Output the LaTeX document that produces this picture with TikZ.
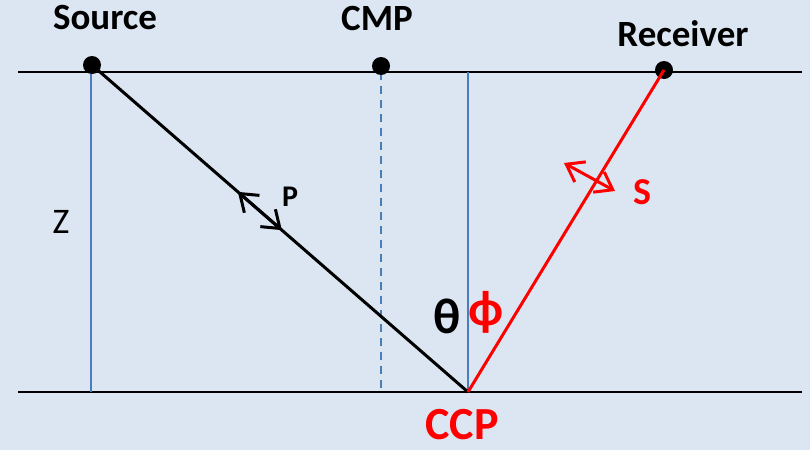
\documentclass[tikz,border=0pt]{standalone}
\usepackage{fontspec}
\setmainfont{Carlito}
\setsansfont{Carlito}
\usetikzlibrary{arrows.meta,calc}
\definecolor{bgblue}{RGB}{220,230,242}
\definecolor{normalblue}{RGB}{74,126,187}

\begin{document}
\begin{tikzpicture}[x=1pt,y=-1pt]
\tikzstyle{dot}=[circle,fill=black,minimum size=18pt,inner sep=0pt]
\tikzstyle{ray}=[draw,line width=3pt]
\tikzstyle{normal}=[draw,normalblue,line width=1.6pt]
\tikzstyle{pol}=[draw,line width=3pt,{Straight Barb[length=16pt,width=23pt]}-{Straight Barb[length=16pt,width=23pt]}]
\tikzstyle{lbl}=[font=\fontsize{37}{42}\selectfont\bfseries]
\fill[bgblue] (0,0) rectangle (810,450);
    % surface and reflector
    \coordinate (tl) at (18,72);
    \coordinate (tr) at (802,72);
    \coordinate (bl) at (18,392);
    \coordinate (br) at (802,392);
    \coordinate (ccp) at (468,392);
    \coordinate (ztop) at (91,72);
    \coordinate (zbot) at (91,392);
    \coordinate (mtop) at (381,72);
    \coordinate (mbot) at (381,392);
    \coordinate (ntop) at (468,72);
    \path (tl) edge [draw,line width=2.2pt] (tr);
    \path (bl) edge [draw,line width=2.2pt] (br);
    \path (ztop) edge [normal] (zbot);
    \path (mtop) edge [normal,dash pattern=on 8pt off 6pt] (mbot);
    \path (ntop) edge [normal] (ccp);
    % stations
    \node[dot] (src) at (92,65) {};
    \node[dot] (cmp) at (381,66) {};
    \node[dot] (rcv) at (664,70) {};
    \path (src.center) edge [ray] (ccp);
    \path (rcv.center) edge [ray,red] (ccp);
    % polarisations
    \coordinate (p1) at ($(src.center)!0.388!(ccp)$);
    \coordinate (p2) at ($(src.center)!0.505!(ccp)$);
    \draw[pol] (p1) -- (p2);
    \coordinate (s1) at (564,163);
    \coordinate (s2) at (615,191);
    \draw[pol,red] (s1) -- (s2);
    % labels
    \node[lbl] (srclbl) at (105,18) {Source};
    \node[lbl] (cmplbl) at (377,18) {CMP};
    \node[lbl] (rcvlbl) at (683,34) {Receiver};
    \node[font=\fontsize{30}{34}\selectfont\bfseries] (plbl) at (290,197) {P};
    \node[font=\fontsize{38}{42}\selectfont\bfseries,red] (slbl) at (642,192) {S};
    \node[font=\fontsize{36}{40}\selectfont] (zlbl) at (61,222) {Z};
    \node[font=\fontsize{50}{56}\selectfont\bfseries] (thlbl) at (447,316) {θ};
    \node[font=\fontsize{50}{56}\selectfont\bfseries,red] (phlbl) at (486,312) {ϕ};
    \node[font=\fontsize{46}{52}\selectfont\bfseries,red,inner sep=0pt] (ccplbl) at (462,425) {CCP};
\end{tikzpicture}
\end{document}
